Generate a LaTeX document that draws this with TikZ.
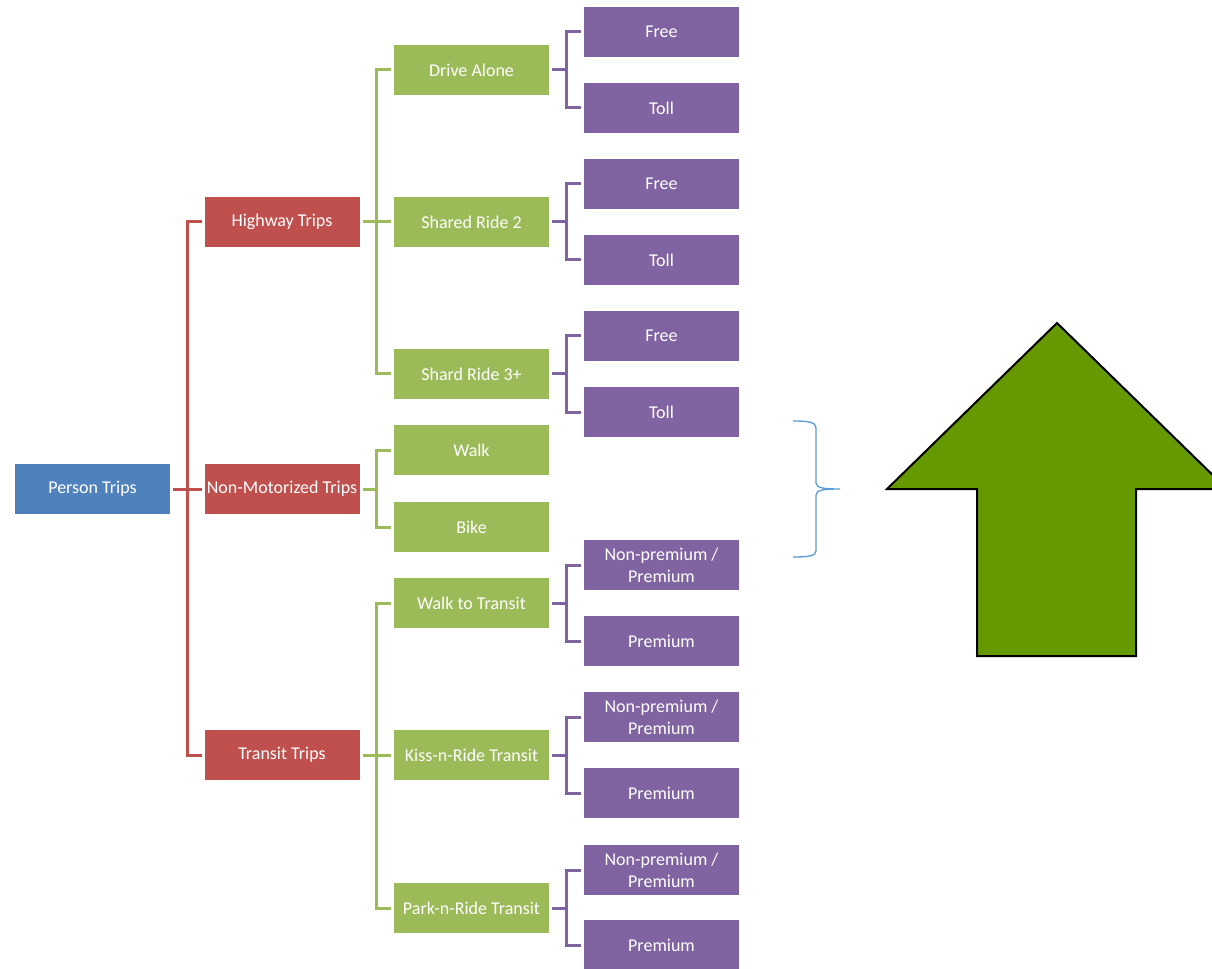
\documentclass[tikz,border=0pt]{standalone}
\usepackage{fontspec}
\setmainfont{Carlito}
\usetikzlibrary{positioning}
\definecolor{tripblue}{HTML}{4F81BD}
\definecolor{tripred}{HTML}{C0504D}
\definecolor{tripgreen}{HTML}{9BBB59}
\definecolor{trippurple}{HTML}{8064A2}
\definecolor{bracecol}{HTML}{5B9BD5}
\definecolor{arrowgreen}{HTML}{669900}
\pgfmathsetmacro{\xa}{92.5}
\pgfmathsetmacro{\xb}{282}
\pgfmathsetmacro{\xc}{471.5}
\pgfmathsetmacro{\xd}{661.5}
\pgfmathsetmacro{\myk}{14}
\tikzset{
  tripbox/.style={minimum width=116.25pt, minimum height=37.5pt, inner sep=0pt,
    outer sep=2.25pt, text=white, align=center,
    font=\fontsize{13.5}{16.5}\selectfont},
  link/.style={line width=2.25pt}
}

\begin{document}
\begin{tikzpicture}[x=0.75pt, y=-0.75pt]
\useasboundingbox (0,0) rectangle (1212,969);

% first level
\node[tripbox, fill=tripblue] (person) at (\xa,489) {Person Trips};

% second level
\node[tripbox, fill=tripred] (hwy) at (\xb,222) {Highway Trips};
\node[tripbox, fill=tripred] (nonmot) at (\xb,489) {Non-Motorized Trips};
\node[tripbox, fill=tripred] (transit) at (\xb,755) {Transit Trips};

% third level
\node[tripbox, fill=tripgreen] (da) at (\xc,70) {Drive Alone};
\node[tripbox, fill=tripgreen] (sr2) at (\xc,222) {Shared Ride 2};
\node[tripbox, fill=tripgreen] (sr3) at (\xc,374) {Shard Ride 3+};
\node[tripbox, fill=tripgreen] (walk) at (\xc,450) {Walk};
\node[tripbox, fill=tripgreen] (bike) at (\xc,527) {Bike};
\node[tripbox, fill=tripgreen] (wtt) at (\xc,603) {Walk to Transit};
\node[tripbox, fill=tripgreen] (knr) at (\xc,755) {Kiss-n-Ride Transit};
\node[tripbox, fill=tripgreen] (pnr) at (\xc,908) {Park-n-Ride Transit};

% fourth level
\node[tripbox, fill=trippurple] (daf) at (\xd,32) {Free};
\node[tripbox, fill=trippurple] (dat) at (\xd,108) {Toll};
\node[tripbox, fill=trippurple] (srtwof) at (\xd,184) {Free};
\node[tripbox, fill=trippurple] (srtwot) at (\xd,260) {Toll};
\node[tripbox, fill=trippurple] (srthreef) at (\xd,336) {Free};
\node[tripbox, fill=trippurple] (srthreet) at (\xd,412) {Toll};
\node[tripbox, fill=trippurple] (wttn) at (\xd,565) {Non-premium /\\Premium};
\node[tripbox, fill=trippurple] (wttp) at (\xd,641) {Premium};
\node[tripbox, fill=trippurple] (knrn) at (\xd,717) {Non-premium /\\Premium};
\node[tripbox, fill=trippurple] (knrp) at (\xd,793) {Premium};
\node[tripbox, fill=trippurple] (pnrn) at (\xd,870) {Non-premium /\\Premium};
\node[tripbox, fill=trippurple] (pnrp) at (\xd,945) {Premium};

% connectors
\foreach \to in {hwy,nonmot,transit}
  \draw[link, tripred] (person.east) -- ++(\myk,0) |- (\to.west);
\foreach \from/\to in {hwy/da,hwy/sr2,hwy/sr3,nonmot/walk,nonmot/bike,
    transit/wtt,transit/knr,transit/pnr}
  \draw[link, tripgreen] (\from.east) -- ++(\myk,0) |- (\to.west);
\foreach \from/\to in {da/daf,da/dat,sr2/srtwof,sr2/srtwot,sr3/srthreef,sr3/srthreet,
    wtt/wttn,wtt/wttp,knr/knrn,knr/knrp,pnr/pnrn,pnr/pnrp}
  \draw[link, trippurple] (\from.east) -- ++(\myk,0) |- (\to.west);

% brace
\draw[bracecol, line width=1pt] (793,421) .. controls (808,421) and (816,422) .. (816,428)
  -- (816,483) .. controls (816,488) and (824,489) .. (840,489)
  .. controls (824,489) and (816,490) .. (816,495)
  -- (816,551) .. controls (816,556) and (808,557) .. (793,557);

% big arrow
\draw[fill=arrowgreen, line width=1.5pt, line join=miter]
  (1057,323) -- (1227,489) -- (1136,489) -- (1136,656) -- (977,656)
  -- (977,489) -- (887,489) -- cycle;
\end{tikzpicture}
\end{document}
